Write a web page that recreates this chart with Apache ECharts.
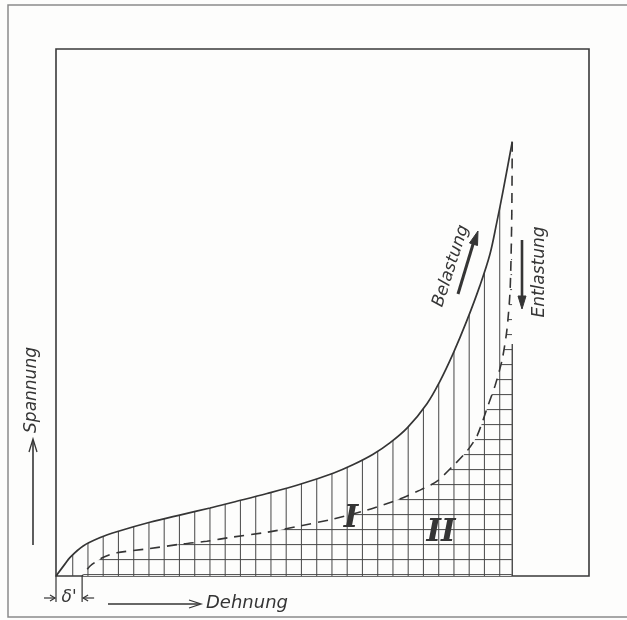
<!DOCTYPE html>
<html>
<head>
<meta charset="utf-8">
<script src="https://cdn.jsdelivr.net/npm/echarts@6/dist/echarts.min.js"></script>
<style>
  html, body { margin: 0; padding: 0; background: #fdfdfc; }
  #chart { width: 627px; height: 620px; }
</style>
</head>
<body>
<div id="chart"></div>
<script>
// Spannungs-Dehnungs-Schaubild mit Belastungs- und Entlastungslinie.
// Dehnung und Spannung in relativen Einheiten (0 ... 100).

// Belastung (ausgezogene Linie)
const belastungDehnung  = [0, 1.7, 2.6, 5.1, 8.3, 11.4, 17.6, 23.8, 28.9, 33.2, 39.6, 45.8, 52.0, 55.7, 59.5, 62.7, 65.9, 69.6, 72.0, 74.5, 77.1, 79.5, 81.4, 82.7, 83.9, 85.6];
const belastungSpannung = [0, 2.3, 3.5, 5.7, 7.3, 8.4, 10.2, 11.7, 12.9, 14.0, 15.65, 17.4, 19.5, 21.1, 23.1, 25.3, 28.1, 32.7, 36.9, 42.2, 48.5, 55.0, 61.0, 67.1, 73.2, 82.4];

// Entlastung (gestrichelte Linie), vom Höchstpunkt zurück bis zur bleibenden Dehnung δ'
const entlastungDehnung  = [85.6, 85.5, 85.2, 84.6, 83.7, 82.4, 80.9, 79.0, 77.1, 74.5, 71.5, 68.3, 64.5, 58.3, 52.0, 45.8, 39.6, 33.2, 28.3, 23.8, 17.6, 11.4, 8.8, 6.4, 4.9];
const entlastungSpannung = [82.4, 67.6, 54.3, 46.7, 41.0, 36.2, 31.9, 26.6, 23.7, 20.9, 18.0, 16.3, 14.6, 12.5, 10.8, 9.5, 8.3, 7.4, 6.6, 6.1, 5.2, 4.4, 3.5, 1.9, 0];

// rechte Begrenzung der Fläche II
const grenzeDehnung  = [85.6, 85.6];
const grenzeSpannung = [0, 44];

// Beschriftungen
const achsenTexte = { spannung: 'Spannung', dehnung: 'Dehnung' };
const kurvenTexte = { belastung: 'Belastung', entlastung: 'Entlastung' };
const flaechenTexte = ['I', 'II'];
const restDehnungText = "δ'";

const zip = (xs, ys) => xs.map((x, i) => [x, ys[i]]);
const belastung = zip(belastungDehnung, belastungSpannung);
const entlastung = zip(entlastungDehnung, entlastungSpannung);
const grenze = zip(grenzeDehnung, grenzeSpannung);

// Schraffurmuster: senkrechte Striche (Fläche I) bzw. Gitter (Fläche II)
function schraffur(mitQuerstrichen) {
  const c = document.createElement('canvas');
  c.width = 61; c.height = 15;
  const g = c.getContext('2d');
  if (mitQuerstrichen) { g.fillStyle = '#fdfdfc'; g.fillRect(0, 0, 61, 15); }
  g.fillStyle = 'rgba(70,70,70,0.9)';
  [11.7, 26.95, 42.2, 57.45].forEach(x => g.fillRect(x - 0.55, 0, 1.1, 15));
  if (mitQuerstrichen) g.fillRect(0, 4, 61, 1.1);
  return c;
}

const ink = '#353535';
const chart = echarts.init(document.getElementById('chart'), null, { renderer: 'canvas' });

chart.setOption({
  animation: false,
  backgroundColor: '#fdfdfc',
  grid: { left: 56, top: 49, width: 533, height: 527, show: true, borderColor: '#3a3a3a', borderWidth: 1.6, backgroundColor: 'transparent' },
  xAxis: { type: 'value', min: 0, max: 100, show: false },
  yAxis: { type: 'value', min: 0, max: 100, show: false },
  series: [
    { name: 'Fläche I', type: 'line', data: belastung, symbol: 'none', smooth: 0.35, silent: true,
      lineStyle: { width: 0, opacity: 0 },
      areaStyle: { color: { image: schraffur(false), repeat: 'repeat' }, opacity: 1 }, z: 1 },
    { name: 'Entlastung', type: 'line', data: entlastung, symbol: 'none', smooth: 0.25, silent: true,
      lineStyle: { color: ink, width: 1.6, type: [10, 7] },
      areaStyle: { color: { image: schraffur(true), repeat: 'repeat' }, opacity: 1 }, z: 2 },
    { name: 'Belastung', type: 'line', data: belastung, symbol: 'none', smooth: 0.35, silent: true,
      lineStyle: { color: ink, width: 1.7 }, z: 3 },
    { name: 'Grenze', type: 'line', data: grenze, symbol: 'none', silent: true,
      lineStyle: { color: '#3a3a3a', width: 1.3 }, z: 3 }
  ]
});

// Lage der bleibenden Dehnung δ' auf der Nulllinie
const p0 = chart.convertToPixel({ gridIndex: 0 }, [belastungDehnung[0], 0]);
const p1 = chart.convertToPixel({ gridIndex: 0 }, [entlastungDehnung[entlastungDehnung.length - 1], 0]);

const font = (size) => 'italic ' + size + 'px "DejaVu Sans", sans-serif';
const strich = (pts, w, col) => ({ type: 'polyline', z: 10, shape: { points: pts }, style: { stroke: col || ink, lineWidth: w || 1.3, fill: null }, silent: true });
const spitze = (pts) => ({ type: 'polygon', z: 10, shape: { points: pts }, style: { fill: ink, stroke: ink, lineWidth: 1 }, silent: true });
const text = (x, y, str, f, rot, align) => ({ type: 'text', z: 10, x: x, y: y, rotation: rot || 0, silent: true,
  style: { text: str, font: f, fill: ink, align: align || 'center', verticalAlign: 'middle' } });

chart.setOption({
  graphic: [
    // Rahmen der Seite
    strich([[627, 5], [8, 5], [8, 617], [627, 617]], 1.5, '#8a8a8a'),

    // Spannungsachse
    text(32, 390, achsenTexte.spannung, font(17), Math.PI / 2),
    strich([[33, 545], [33, 440]], 1.6),
    strich([[29, 452], [33, 439], [37, 452]], 1.3),

    // Dehnungsachse
    strich([[108, 604], [200, 604]], 1.6),
    strich([[189, 600], [201, 604], [189, 608]], 1.3),
    text(206, 603, achsenTexte.dehnung, font(18), 0, 'left'),

    // bleibende Dehnung δ'
    strich([[p0[0], p0[1]], [p0[0], p0[1] + 26]], 1.2),
    strich([[p1[0], p1[1]], [p1[0], p1[1] + 26]], 1.2),
    strich([[p0[0] - 12, 598], [p0[0] - 1, 598]], 1.2),
    strich([[p0[0] - 6, 595], [p0[0] - 1, 598], [p0[0] - 6, 601]], 1.2),
    strich([[p1[0] + 12, 598], [p1[0] + 1, 598]], 1.2),
    strich([[p1[0] + 6, 595], [p1[0] + 1, 598], [p1[0] + 6, 601]], 1.2),
    text((p0[0] + p1[0]) / 2, 598, restDehnungText, font(17)),

    // Belastung
    text(451, 266, kurvenTexte.belastung, font(17), 72 * Math.PI / 180),
    strich([[458, 294], [474, 241]], 3),
    spitze([[478, 231], [469.5, 243], [477.5, 245.5]]),

    // Entlastung
    text(540, 272, kurvenTexte.entlastung, font(17), Math.PI / 2),
    strich([[522, 240], [522, 298]], 2.6),
    spitze([[522, 309], [518, 296], [526, 296]]),

    // Flächenbezeichnungen
    text(351, 519, flaechenTexte[0], 'italic bold 31px "DejaVu Serif", serif'),
    text(441, 533, flaechenTexte[1], 'italic bold 31px "DejaVu Serif", serif')
  ]
});
</script>
</body>
</html>
